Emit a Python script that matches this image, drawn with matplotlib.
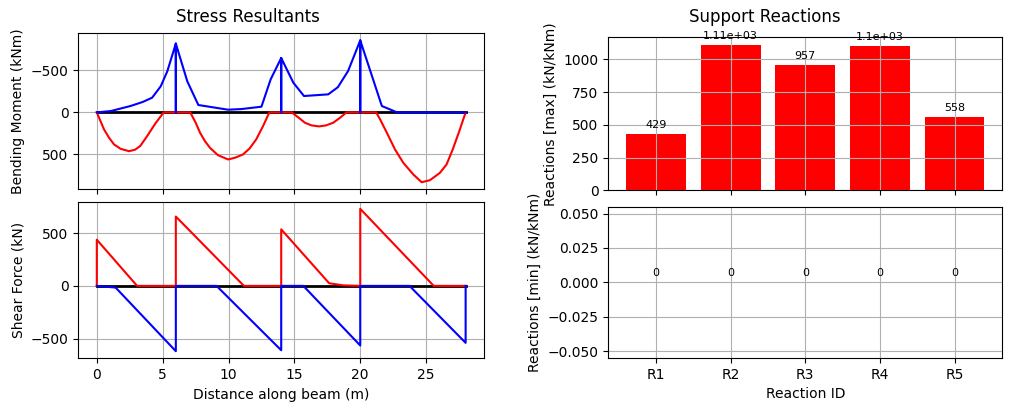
import matplotlib.pyplot as plt

# bending moment envelope (kNm), max = red, min = blue
m_max_x = [0, 0.55, 0.93, 1.31, 1.81, 2.44, 2.9, 3.3, 3.82, 4.45, 5.08, 6, 7.09, 7.5, 7.84, 8.2, 8.59,
           9.2, 9.97, 10.5, 11.1, 11.6, 12.1, 12.6, 13.1, 14, 14.8, 15.3, 15.8, 16.3, 16.88, 17.4,
           17.95, 18.5, 18.95, 20, 21.21, 21.51, 22.02, 22.64, 23.27, 24.03, 24.66, 25.29, 26.05,
           26.55, 27.02, 27.52, 28]
m_max = [0, 203, 302, 382, 434, 462, 445, 400, 283, 131, 0, 0, 0, 120, 243, 340, 422,
         510, 561, 540, 501, 430, 322, 170, 0, 0, 0, 60, 123, 155, 167, 155,
         123, 60, 0, 0, 0, 84, 243, 442, 601, 740, 832, 808, 720,
         621, 442, 223, 0]

m_min_x = [0, 1.06, 2.56, 3.5, 4.2, 4.85, 5.35, 6, 6, 6, 6.87, 7.71, 9.97, 11.0, 12.5, 13.2, 14, 14, 14,
           14.92, 15.73, 17.57, 18.3, 19.08, 20, 20, 20, 21.64, 22.8, 28]
m_min = [0, -16, -76, -125, -175, -310, -488, -820, 0, -820, -370, -88, -32, -40, -68, -394, -648, 0, -648,
         -354, -195, -215, -300, -494, -858, 0, -858, -76, 0, 0]

# shear force envelope (kN)
v_max_x = [0, 0, 3.06, 6, 6, 11.17, 14, 14, 17.64, 18.7, 20, 20, 25.58, 28]
v_max = [0, 437, 0, 0, 656, 0, 0, 535, 25, 5, 0, 729, 0, 0]

v_min_x = [0, 1.43, 6, 6, 9.09, 14, 14, 15.68, 20, 20, 23.74, 28, 28]
v_min = [0, -16, -618, 0, 0, -609, 0, 0, -564, 0, 0, -539, 0]

# support reactions
reaction_ids = ["R1", "R2", "R3", "R4", "R5"]
reactions_max = [429, 1112, 957, 1102, 558]
reactions_min = [0, 0, 0, 0, 0]

fig = plt.figure(figsize=(10.11, 4.11), dpi=100)

ax_m = fig.add_axes([0.0775, 0.5394, 0.4013, 0.3796])
ax_v = fig.add_axes([0.0775, 0.1282, 0.4013, 0.381], sharex=ax_m)
ax_rmax = fig.add_axes([0.6017, 0.537, 0.3897, 0.372])
ax_rmin = fig.add_axes([0.6017, 0.129, 0.3897, 0.368], sharex=ax_rmax)

# bending moment
ax_m.plot([0, 28], [0, 0], "k", lw=2)
ax_m.plot(m_max_x, m_max, "r")
ax_m.plot(m_min_x, m_min, "b")
ax_m.invert_yaxis()
ax_m.set_ylabel("Bending Moment (kNm)")
ax_m.grid(True)
ax_m.tick_params(labelbottom=False)

# shear force
ax_v.plot([0, 28], [0, 0], "k", lw=2)
ax_v.plot(v_max_x, v_max, "r")
ax_v.plot(v_min_x, v_min, "b")
ax_v.set_ylabel("Shear Force (kN)")
ax_v.set_xlabel("Distance along beam (m)")
ax_v.grid(True)

# reactions
bars = ax_rmax.bar(reaction_ids, reactions_max, color="red")
ax_rmax.bar_label(bars, fmt="%.3g", fontsize=8, padding=3)
ax_rmax.set_ylabel("Reactions [max] (kN/kNm)")
ax_rmax.grid(True)
ax_rmax.tick_params(labelbottom=False)

bars = ax_rmin.bar(reaction_ids, reactions_min, color="red")
ax_rmin.bar_label(bars, fmt="%.3g", fontsize=8, padding=3)
ax_rmin.set_ylabel("Reactions [min] (kN/kNm)")
ax_rmin.set_xlabel("Reaction ID")
ax_rmin.grid(True)

fig.text(0.245, 0.958, "Stress Resultants", ha="center", va="center", fontsize=12)
fig.text(0.756, 0.958, "Support Reactions", ha="center", va="center", fontsize=12)

fig.savefig("out.png")
